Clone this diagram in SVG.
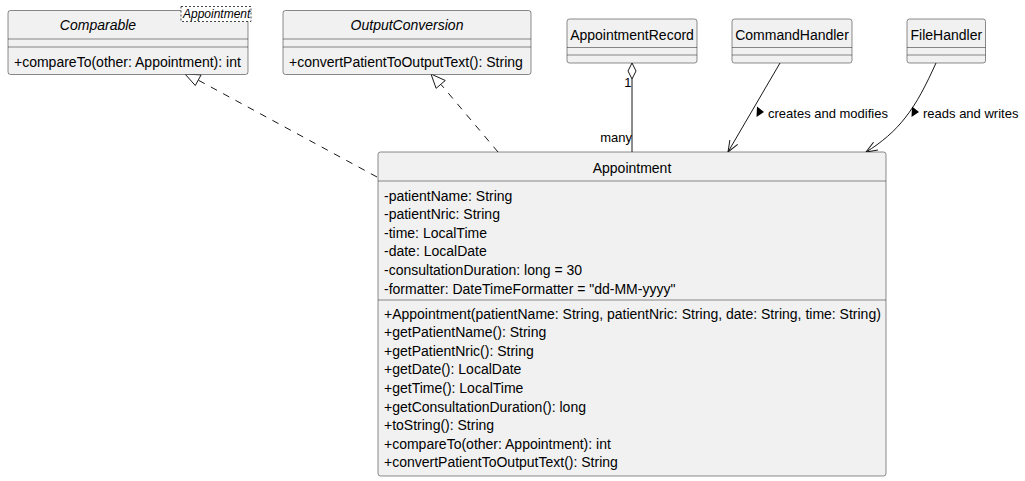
<svg xmlns="http://www.w3.org/2000/svg" width="1025" height="481" viewBox="0 0 1025 481">
<style>
.box{fill:#F1F1F1;stroke:#181818;stroke-width:0.5}
.div{stroke:#181818;stroke-width:0.5}
text{font-family:"Liberation Sans",Arial,sans-serif;fill:#000}
.t14{font-size:14px}
.t13{font-size:13px}
.it{font-style:italic}
.mid{text-anchor:middle}
.end{text-anchor:end}
.edge{fill:none;stroke:#181818;stroke-width:1}
.dash{stroke-dasharray:7,7}
.hollow{fill:#FFFFFF;stroke:#181818;stroke-width:1}
</style>
<defs>
<marker id="open" viewBox="0 0 12 10" refX="11.5" refY="5" markerWidth="12" markerHeight="10" orient="auto" markerUnits="userSpaceOnUse">
<path d="M0,0.5 L11.5,5 L0,9.5" fill="none" stroke="#181818" stroke-width="1"/>
</marker>
</defs>
<rect width="1025" height="481" fill="#FFFFFF"/>

<g id="connectors">
<path class="edge dash" d="M377,177 L198,80"/>
<polygon class="hollow" points="185,74 201.1,74.9 195.3,85.5"/>
<path class="edge dash" d="M498,152 L441,84.5"/>
<polygon class="hollow" points="431,74 445.3,80.5 436.1,88.3"/>
<path class="edge" d="M632,79 L632,152"/>
<polygon class="hollow" points="632,63 636,71 632,79 628,71"/>
<text class="t13 end" x="631.5" y="87">1</text>
<text class="t13 end" x="632" y="142">many</text>
<path class="edge" d="M780,63 L728,152" marker-end="url(#open)"/>
<polygon points="757,106.5 764,112 756.5,117" fill="#000"/>
<text class="t13" x="768" y="118">creates and modifies</text>
<path class="edge" d="M936,63 C926,85 917,103 905,118 C895,131 881,143 866,152" marker-end="url(#open)"/>
<polygon points="912,106.5 919,112 911.5,117" fill="#000"/>
<text class="t13" x="923" y="118">reads and writes</text>
</g>

<g id="Comparable">
<rect class="box" x="8" y="10.5" width="240" height="64" rx="2.5"/>
<text class="t14 it mid" x="98" y="30">Comparable</text>
<line class="div" x1="8" y1="39" x2="248" y2="39"/>
<line class="div" x1="8" y1="47" x2="248" y2="47"/>
<text class="t14" x="14" y="66.5">+compareTo(other: Appointment): int</text>
<rect x="181" y="6.5" width="70" height="15" fill="#FFFFFF" stroke="#181818" stroke-width="0.8" stroke-dasharray="2,2"/>
<text class="it" x="183" y="18" font-size="12">Appointment</text>
</g>

<g id="OutputConversion">
<rect class="box" x="283" y="10.5" width="248" height="64" rx="2.5"/>
<text class="t14 it mid" x="407" y="30">OutputConversion</text>
<line class="div" x1="283" y1="39" x2="531" y2="39"/>
<line class="div" x1="283" y1="47" x2="531" y2="47"/>
<text class="t14" x="289" y="66.5">+convertPatientToOutputText(): String</text>
</g>

<g id="AppointmentRecord">
<rect class="box" x="567" y="19" width="130" height="44" rx="2.5"/>
<text class="t14 mid" x="632" y="40">AppointmentRecord</text>
<line class="div" x1="567" y1="47.5" x2="697" y2="47.5"/>
<line class="div" x1="567" y1="55" x2="697" y2="55"/>
</g>

<g id="CommandHandler">
<rect class="box" x="732" y="19" width="120" height="44" rx="2.5"/>
<text class="t14 mid" x="792" y="40">CommandHandler</text>
<line class="div" x1="732" y1="47.5" x2="852" y2="47.5"/>
<line class="div" x1="732" y1="55" x2="852" y2="55"/>
</g>

<g id="FileHandler">
<rect class="box" x="907" y="19" width="78.5" height="44" rx="2.5"/>
<text class="t14 mid" x="946.3" y="40">FileHandler</text>
<line class="div" x1="907" y1="47.5" x2="985.5" y2="47.5"/>
<line class="div" x1="907" y1="55" x2="985.5" y2="55"/>
</g>

<g id="Appointment">
<rect class="box" x="378" y="152" width="508" height="324" rx="2.5"/>
<text class="t14 mid" x="632" y="172.5">Appointment</text>
<line class="div" x1="378" y1="181" x2="886" y2="181"/>
<text class="t14" x="384" y="200.5">-patientName: String</text>
<text class="t14" x="384" y="219.1">-patientNric: String</text>
<text class="t14" x="384" y="237.7">-time: LocalTime</text>
<text class="t14" x="384" y="256.3">-date: LocalDate</text>
<text class="t14" x="384" y="274.9">-consultationDuration: long = 30</text>
<text class="t14" x="384" y="293.5">-formatter: DateTimeFormatter = "dd-MM-yyyy"</text>
<line class="div" x1="378" y1="300" x2="886" y2="300"/>
<text class="t14" x="384" y="318.6">+Appointment(patientName: String, patientNric: String, date: String, time: String)</text>
<text class="t14" x="384" y="337.2">+getPatientName(): String</text>
<text class="t14" x="384" y="355.8">+getPatientNric(): String</text>
<text class="t14" x="384" y="374.4">+getDate(): LocalDate</text>
<text class="t14" x="384" y="393">+getTime(): LocalTime</text>
<text class="t14" x="384" y="411.6">+getConsultationDuration(): long</text>
<text class="t14" x="384" y="430.2">+toString(): String</text>
<text class="t14" x="384" y="448.8">+compareTo(other: Appointment): int</text>
<text class="t14" x="384" y="467.4">+convertPatientToOutputText(): String</text>
</g>
</svg>
